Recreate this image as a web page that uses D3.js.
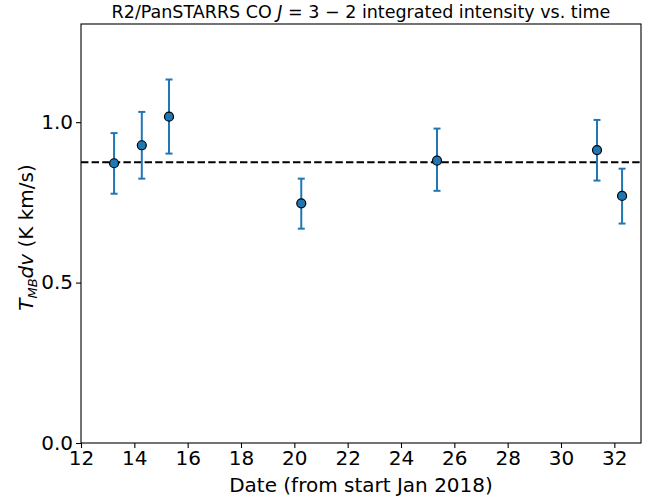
<!DOCTYPE html>
<html>
<head>
<meta charset="utf-8">
<script src="https://cdn.jsdelivr.net/npm/d3@7"></script>
<style>
  body { margin: 0; background: #fff; }
  svg text { font-family: "DejaVu Sans", sans-serif; fill: #000; }
</style>
</head>
<body>
<div id="chart"></div>
<script>
// observation dates (days from start of Jan 2018)
var dates     = [13.24, 14.28, 15.30, 20.26, 25.35, 31.35, 32.29],
    intensity = [0.872, 0.928, 1.017, 0.747, 0.880, 0.913, 0.770],
    errUp     = [0.094, 0.104, 0.116, 0.077, 0.100, 0.094, 0.085],
    errDown   = [0.095, 0.104, 0.115, 0.079, 0.094, 0.095, 0.086],
    xTicks    = [12, 14, 16, 18, 20, 22, 24, 26, 28, 30, 32],
    yTicks    = [0.0, 0.5, 1.0]

var meanIntensity = d3.mean(intensity)

var W = 657, H = 497
var margin = {top: 24, right: 16, bottom: 54, left: 81},
    width  = W - margin.left - margin.right,
    height = H - margin.top - margin.bottom

var svg = d3.select("#chart").append("svg")
  .attr("width", W)
  .attr("height", H)

var g = svg.append("g")
  .attr("transform", "translate(" + margin.left + "," + margin.top + ")")

var x = d3.scaleLinear().domain([12, 33]).range([0, width])
var y = d3.scaleLinear().domain([0, 1.306]).range([height, 0])

var pts = dates.map((d, i) => ({x: d, y: intensity[i], up: errUp[i], dn: errDown[i]}))

// mean line
g.append("line")
  .attr("x1", 0).attr("x2", width)
  .attr("y1", y(meanIntensity)).attr("y2", y(meanIntensity))
  .attr("stroke", "#000")
  .attr("stroke-width", 2)
  .attr("stroke-dasharray", "7.4,3.2")

// error bars
var eb = g.append("g").selectAll("g")
  .data(pts).enter().append("g")
  .attr("stroke", "#1f77b4")
  .attr("stroke-width", 2)

eb.append("line")
  .attr("x1", d => x(d.x)).attr("x2", d => x(d.x))
  .attr("y1", d => y(d.y + d.up)).attr("y2", d => y(d.y - d.dn))
eb.append("line")
  .attr("x1", d => x(d.x) - 3.5).attr("x2", d => x(d.x) + 3.5)
  .attr("y1", d => y(d.y + d.up)).attr("y2", d => y(d.y + d.up))
eb.append("line")
  .attr("x1", d => x(d.x) - 3.5).attr("x2", d => x(d.x) + 3.5)
  .attr("y1", d => y(d.y - d.dn)).attr("y2", d => y(d.y - d.dn))

// markers
g.append("g").selectAll("circle")
  .data(pts).enter().append("circle")
  .attr("cx", d => x(d.x))
  .attr("cy", d => y(d.y))
  .attr("r", 4.5)
  .attr("fill", "#1f77b4")
  .attr("stroke", "#000")
  .attr("stroke-width", 1.2)

// axes
var xAxis = g.append("g")
  .attr("transform", "translate(0," + height + ")")
  .call(d3.axisBottom(x).tickValues(xTicks).tickSize(5).tickSizeOuter(0).tickPadding(3))
var yAxis = g.append("g")
  .call(d3.axisLeft(y).tickValues(yTicks).tickFormat(d3.format(".1f")).tickSize(5).tickSizeOuter(0).tickPadding(3))

;[xAxis, yAxis].forEach(a => {
  a.select(".domain").remove()
  a.selectAll("line").attr("stroke", "#000").attr("stroke-width", 1.1)
  a.selectAll("text").style("font-size", "20px").style("font-family", "DejaVu Sans")
})

// frame
g.append("rect")
  .attr("width", width).attr("height", height)
  .attr("fill", "none").attr("stroke", "#000").attr("stroke-width", 1.1)

// labels
svg.append("text")
  .attr("x", margin.left + width / 2).attr("y", 18)
  .attr("text-anchor", "middle")
  .style("font-size", "17.5px")
  .html('R2/PanSTARRS CO <tspan font-style="italic">J</tspan> = 3 \u2212 2 integrated intensity vs. time')

svg.append("text")
  .attr("x", margin.left + width / 2).attr("y", H - 5)
  .attr("text-anchor", "middle")
  .style("font-size", "20px")
  .text("Date (from start Jan 2018)")

svg.append("text")
  .attr("transform", "translate(33," + (margin.top + height / 2 + 4) + ") rotate(-90)")
  .attr("text-anchor", "middle")
  .style("font-size", "20px")
  .html('<tspan font-style="italic">T</tspan><tspan font-style="italic" font-size="13px" dy="4">MB</tspan><tspan font-style="italic" dy="-4">dv</tspan> (K km/s)')
</script>
</body>
</html>
